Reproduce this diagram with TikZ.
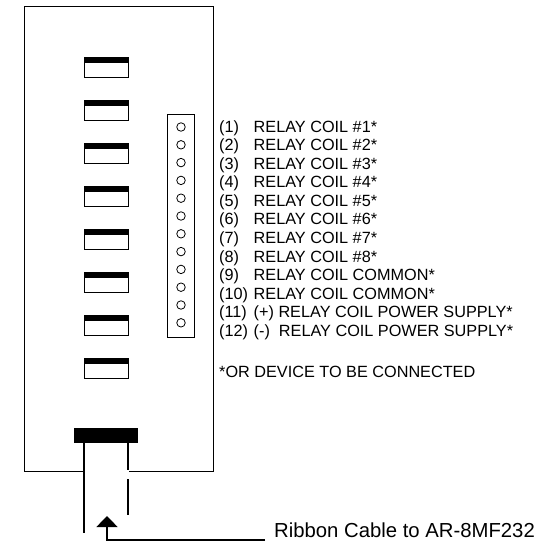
\documentclass[tikz,border=0pt]{standalone}
\usepackage{fontspec}
\setmainfont{Liberation Sans}
\usetikzlibrary{arrows.meta}
\newcommand\pinno[1]{\makebox[34.5pt][l]{#1}}
\tikzset{
  relaybox/.style={draw,line width=.9pt,minimum width=44pt,minimum height=20pt,inner sep=0pt},
  pinhole/.style={circle,draw,line width=.8pt,minimum size=8.5pt,inner sep=0pt},
  pinstrip/.style={draw,line width=.9pt,minimum width=27pt,minimum height=223pt,inner sep=0pt},
  pinlabel/.style={anchor=west,inner sep=0pt,font=\fontsize{16.25}{18}\selectfont},
  plug/.style={fill=black,minimum width=64pt,minimum height=15pt,inner sep=0pt},
  wire/.style={line width=1.4pt}
}
\begin{document}
\begin{tikzpicture}[x=1pt,y=-1pt]
    \useasboundingbox (0,0) rectangle (538,541);
    % board outline, open at the ribbon
    \draw[line width=.9pt] (84,471) -- (24,471) -- (24,6.5) -- (213,6.5) -- (213,471) -- (129,471);

    \foreach \y/\k in {67.5/1,110.5/2,153/3,196/4,239/5,282/6,325/7,368/8} {
        \node[relaybox] (r\k) at (106,\y) {};
        \fill (r\k.north west) rectangle ([yshift=-6pt]r\k.north east);
    }

    \node[pinstrip] (strip) at (180.5,225.5) {};
    \foreach \k in {1,...,12}
        \node[pinhole] (p\k) at (181,{127+(\k-1)*17.8}) {};

    \foreach \n/\t/\k in {(1)/RELAY COIL \#1*/1,(2)/RELAY COIL \#2*/2,(3)/RELAY COIL \#3*/3,
        (4)/RELAY COIL \#4*/4,(5)/RELAY COIL \#5*/5,(6)/RELAY COIL \#6*/6,
        (7)/RELAY COIL \#7*/7,(8)/RELAY COIL \#8*/8,(9)/RELAY COIL COMMON*/9,
        (10)/RELAY COIL COMMON*/10,(11)/(+) RELAY COIL POWER SUPPLY*/11,
        (12)/(-)\ \ RELAY COIL POWER SUPPLY*/12}
        \node[pinlabel] (t\k) at (219,{128+(\k-1)*18.55}) {\pinno{\n}\t};
    \node[pinlabel] (note) at (219,372) {*OR DEVICE TO BE CONNECTED};

    \node[plug] (plug) at (106,435.5) {};
    \coordinate (wl) at (84,533);
    \coordinate (wr1) at (128,470);
    \coordinate (wr2) at (128,479);
    \coordinate (wr3) at (128,515);
    \draw[wire] (plug.south -| wl) -- (wl);
    \draw[wire] (plug.south -| wr1) -- (wr1);
    \draw[wire] (wr2) -- (wr3);

    \node[anchor=west,inner sep=0pt,font=\fontsize{20.3}{22}\selectfont] (cable) at (274,530) {Ribbon Cable to AR-8MF232};
    \coordinate (ce) at (265,540);
    \coordinate (ct) at (107,516);
    \draw[wire,-{Triangle[width=21pt,length=11pt]}] (ce) -- (ct |- ce) -- (ct);
\end{tikzpicture}
\end{document}
